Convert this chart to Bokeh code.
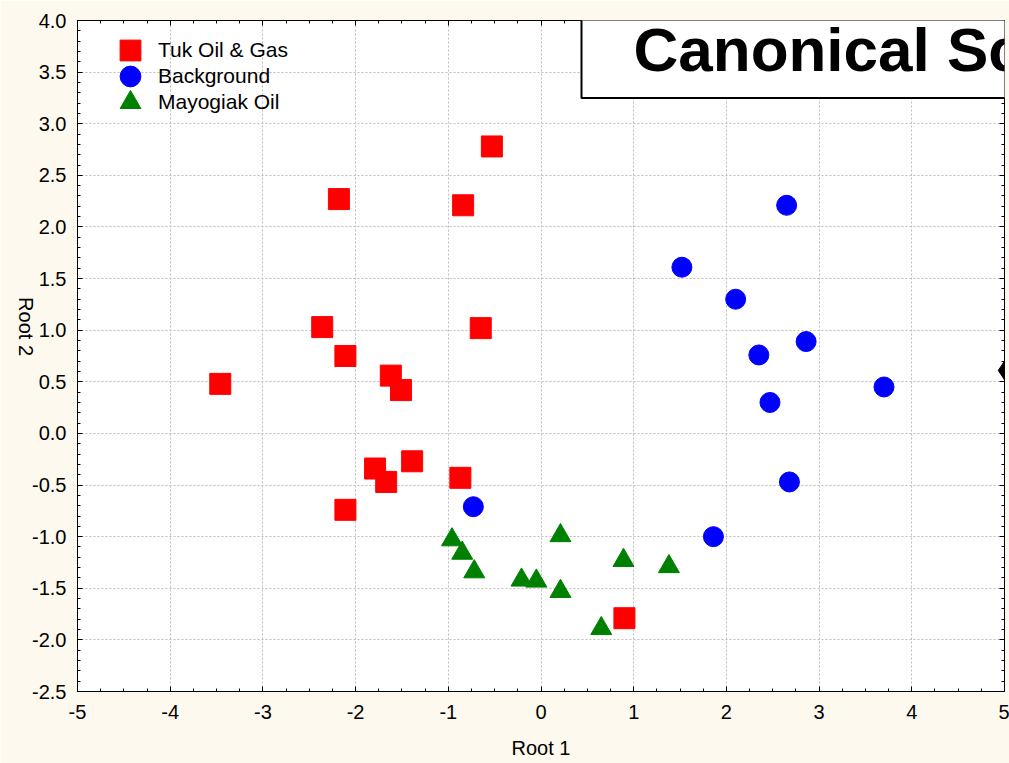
import math
from bokeh.plotting import figure
from bokeh.models import (Range1d, SingleIntervalTicker, LinearAxis, PrintfTickFormatter,
                          Label, Legend, LegendItem)
from bokeh.embed import file_html
from bokeh.resources import INLINE

# ---- data ----
tuk_x = [-3.46, -2.18, -2.36, -2.11, -1.62, -1.51, -1.79, -1.67, -1.39, -2.11, -0.87, -0.84, -0.53, -0.65, 0.90]
tuk_y = [0.48, 2.27, 1.03, 0.75, 0.56, 0.42, -0.34, -0.47, -0.27, -0.74, -0.43, 2.21, 2.78, 1.02, -1.79]
bg_x = [-0.73, 1.52, 2.65, 2.10, 2.35, 2.86, 2.47, 3.70, 2.68, 1.86]
bg_y = [-0.71, 1.61, 2.21, 1.30, 0.76, 0.89, 0.30, 0.45, -0.47, -1.00]
may_x = [-0.96, -0.85, -0.72, -0.21, -0.05, 0.21, 0.21, 0.89, 0.65, 1.38]
may_y = [-1.03, -1.16, -1.34, -1.42, -1.43, -0.99, -1.53, -1.23, -1.89, -1.29]
cen_x = [5.03]
cen_y = [0.61]
series_names = ["Tuk Oil & Gas", "Background", "Mayogiak Oil"]
title_text = "Canonical Scores"
x_label = "Root 1"
y_label = "Root 2"

BG = "#FEF9EE"
FONT = "Liberation Sans"

p = figure(width=1009, height=763, output_backend="svg", toolbar_location=None,
           x_range=Range1d(-5, 5), y_range=Range1d(-2.5, 4.0),
           min_border_left=77, min_border_right=5, min_border_top=20, min_border_bottom=72,
           background_fill_color="white", border_fill_color=BG,
           outline_line_color="black", outline_line_width=1)

xt = SingleIntervalTicker(interval=1, num_minor_ticks=4)
yt = SingleIntervalTicker(interval=0.5, num_minor_ticks=5)

def style_axis(ax, show_labels):
    ax.axis_line_color = "black"
    ax.major_tick_line_color = "black"
    ax.minor_tick_line_color = "black"
    ax.major_tick_in = 5
    ax.major_tick_out = 0
    ax.minor_tick_in = 3
    ax.minor_tick_out = 0
    if show_labels:
        ax.major_label_text_font = FONT
        ax.major_label_text_font_size = "20px"
        ax.major_label_text_color = "black"
    else:
        ax.formatter = PrintfTickFormatter(format="")
        ax.major_label_text_color = None
        ax.major_label_standoff = 0

xa = p.xaxis[0]
xa.ticker = xt
xa.formatter = PrintfTickFormatter(format="%d")
style_axis(xa, True)
xa.major_label_standoff = 13
xa.axis_label = x_label
xa.axis_label_text_font = FONT
xa.axis_label_text_font_size = "20px"
xa.axis_label_text_font_style = "normal"
xa.axis_label_text_color = "black"
xa.axis_label_standoff = 15

ya = p.yaxis[0]
ya.ticker = yt
ya.formatter = PrintfTickFormatter(format="%.1f")
style_axis(ya, True)
ya.major_label_standoff = 11
ya.axis_label = y_label
ya.axis_label_text_font = FONT
ya.axis_label_text_font_size = "20px"
ya.axis_label_text_font_style = "normal"
ya.axis_label_text_color = "black"
ya.axis_label_standoff = 3
ya.axis_label_orientation = -math.pi / 2

top = LinearAxis(ticker=SingleIntervalTicker(interval=1, num_minor_ticks=4))
style_axis(top, False)
p.add_layout(top, "above")
right = LinearAxis(ticker=SingleIntervalTicker(interval=0.5, num_minor_ticks=5))
style_axis(right, False)
p.add_layout(right, "right")

p.xgrid.ticker = xt
p.ygrid.ticker = yt
for g in (p.xgrid[0], p.ygrid[0]):
    g.grid_line_color = "#BDBDBD"
    g.grid_line_dash = "2 2"
    g.grid_line_width = 1

r1 = p.scatter(tuk_x, tuk_y, marker="square", size=21, fill_color="#FF0000", line_color="#FF0000")
r2 = p.scatter(bg_x, bg_y, marker="circle", size=20, fill_color="#0000FF", line_color="#0000FF")
r3 = p.scatter(may_x, may_y, marker="triangle", size=21, fill_color="#008000", line_color="#008000")
p.scatter(cen_x, cen_y, marker="diamond", size=27, fill_color="black", line_color="black")
p.scatter(cen_x, cen_y, marker="circle", size=5, fill_color="#FF0000", line_color="#FF0000")

# one legend per entry, stacked 26 px apart
for i, (name, r) in enumerate(zip(series_names, [r1, r2, r3])):
    lg = Legend(items=[LegendItem(label=name, renderers=[r])],
                location=(27, 615 - 26 * i), glyph_width=52, glyph_height=52,
                padding=0, margin=0, label_standoff=2,
                label_text_font=FONT, label_text_font_size="21px", label_text_color="black",
                border_line_color=None, background_fill_alpha=0)
    p.add_layout(lg)

title = Label(x=504, y=642, x_units="screen", y_units="screen", text=title_text,
              text_font=FONT, text_font_style="bold", text_font_size="62px",
              text_baseline="alphabetic", text_align="left", text_color="black",
              background_fill_color="white", border_line_color="black", border_line_width=2,
              padding=(52, 14))
p.add_layout(title)

open("out.html", "w").write(file_html(p, INLINE))
